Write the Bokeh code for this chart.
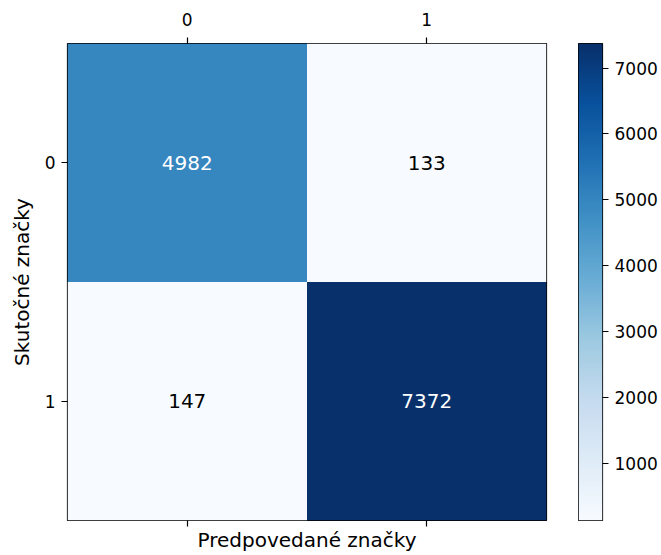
import numpy as np
from bokeh.plotting import figure
from bokeh.layouts import row
from bokeh.models import (ColumnDataSource, LinearColorMapper, FixedTicker,
                          LinearAxis, Range1d, CustomLabelingPolicy)
from bokeh.palettes import Blues256
from bokeh.embed import file_html
from bokeh.resources import INLINE
from bokeh.core.properties import value

# Data
class_labels = ["0", "1"]
actual = [0, 0, 1, 1]
predicted = [0, 1, 0, 1]
counts = [4982, 133, 147, 7372]
cbar_ticks = [1000, 2000, 3000, 4000, 5000, 6000, 7000]

FONT = "DejaVu Sans"
palette = list(Blues256[::-1])
vmin, vmax = min(counts), max(counts)
thresh = vmax / 2.0
text_colors = ["white" if c > thresh else "black" for c in counts]

source = ColumnDataSource(dict(
    x=predicted, y=actual, count=counts,
    label=[str(c) for c in counts], tcolor=text_colors,
))

mapper = LinearColorMapper(palette=palette, low=vmin, high=vmax)

TOP, BOTTOM = 43, 35

p = figure(width=578, height=555, output_backend="svg", toolbar_location=None,
           x_range=Range1d(-0.5, 1.5), y_range=Range1d(1.5, -0.5),
           min_border_left=67, min_border_top=TOP, min_border_right=32,
           min_border_bottom=BOTTOM, background_fill_color="white",
           border_fill_color="white")

p.rect(x="x", y="y", width=1, height=1, source=source,
       fill_color={"field": "count", "transform": mapper}, line_color=None)
p.text(x="x", y="y", text="label", source=source, text_color="tcolor",
       text_align="center", text_baseline="middle",
       text_font=value(FONT), text_font_size="20px")

p.grid.visible = False
p.outline_line_color = "black"
p.outline_line_width = 1.2

ticks = [0, 1]
overrides = {i: class_labels[i] for i in ticks}

def style_axis(ax):
    ax.minor_tick_line_color = None
    ax.axis_line_color = None
    ax.major_tick_in = 0
    ax.major_tick_out = 6
    ax.major_tick_line_color = "black"
    ax.major_tick_line_width = 1.2
    ax.major_label_text_font = FONT
    ax.major_label_text_font_size = "17px"
    ax.major_label_text_color = "black"
    ax.major_label_standoff = 6
    ax.major_label_orientation = "horizontal"
    ax.axis_label_text_font = FONT
    ax.axis_label_text_font_size = "20px"
    ax.axis_label_text_font_style = "normal"
    ax.axis_label_text_color = "black"

# bottom axis: ticks without labels + x label
xb = p.xaxis[0]
style_axis(xb)
xb.ticker = FixedTicker(ticks=ticks)
xb.major_label_overrides = overrides
xb.major_label_policy = CustomLabelingPolicy(code="return []")
xb.major_label_standoff = -22
xb.axis_label = "Predpovedané značky"
xb.axis_label_standoff = 7

# top axis with labels
xt = LinearAxis(ticker=FixedTicker(ticks=ticks), major_label_overrides=overrides)
style_axis(xt)
xt.major_label_standoff = 12
p.add_layout(xt, "above")

yl = p.yaxis[0]
style_axis(yl)
yl.ticker = FixedTicker(ticks=ticks)
yl.major_label_overrides = overrides
yl.axis_label = "Skutočné značky"
yl.axis_label_standoff = 8

# colour bar as its own narrow figure
grad = np.linspace(vmin, vmax, 512).reshape(-1, 1)
cbf = figure(width=83, height=555, output_backend="svg", toolbar_location=None,
             x_range=Range1d(0, 1), y_range=Range1d(vmin, vmax),
             y_axis_location="right", min_border_left=0, min_border_right=59,
             min_border_top=TOP, min_border_bottom=BOTTOM,
             background_fill_color="white", border_fill_color="white")
cbf.image(image=[grad], x=0, y=vmin, dw=1, dh=vmax - vmin, color_mapper=mapper)
cbf.grid.visible = False
cbf.xaxis.visible = False
cbf.outline_line_color = "black"
cbf.outline_line_width = 1.2
ya = cbf.yaxis[0]
style_axis(ya)
ya.ticker = FixedTicker(ticks=cbar_ticks)

layout = row(p, cbf, spacing=0)
open("out.html", "w").write(file_html(layout, INLINE))
